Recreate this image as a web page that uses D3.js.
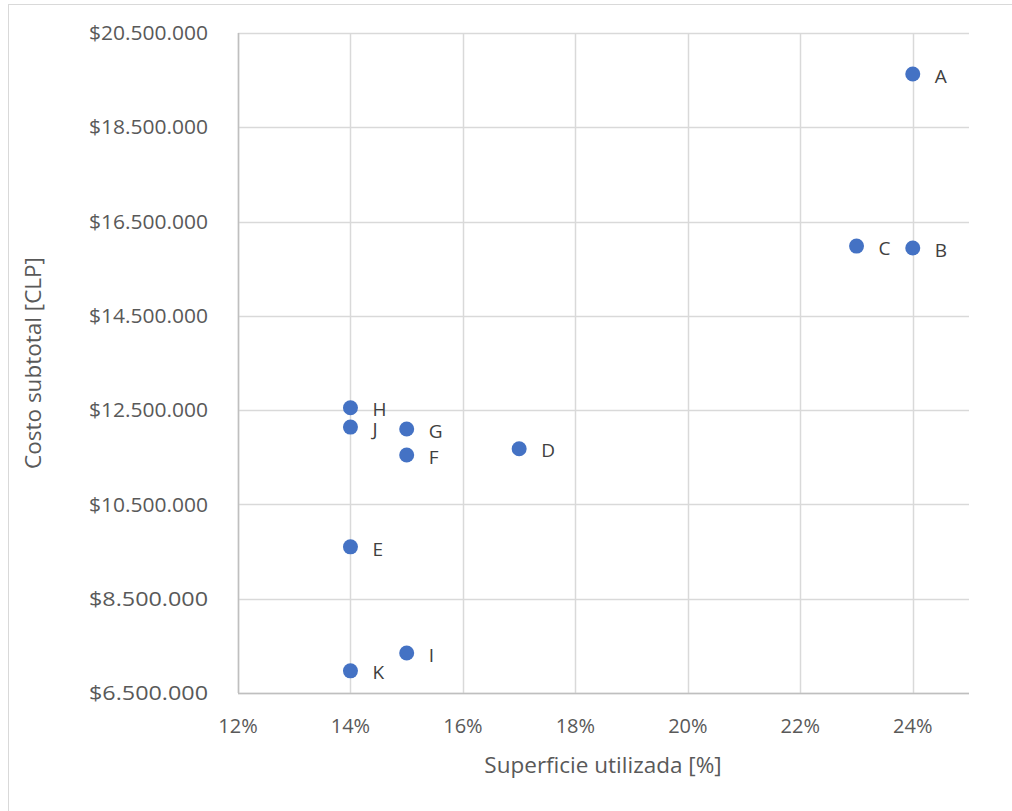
<!DOCTYPE html>
<html><head><meta charset="utf-8">
<script src="https://cdn.jsdelivr.net/npm/d3@7"></script>
<style>body{margin:0;background:#fff}svg{display:block}text{font-family:"Open Sans",Calibri,sans-serif;fill:#595959}</style>
</head><body><svg id="c" width="1012" height="811"></svg>
<script>
const labels = ["A","B","C","D","E","F","G","H","I","J","K"];
const xValues = [0.24,0.24,0.23,0.17,0.14,0.15,0.15,0.14,0.15,0.14,0.14];
const yValues = [19630000,15940000,15980000,11680000,9600000,11550000,12100000,12550000,7350000,12140000,6970000];
const xTicks = [0.12,0.14,0.16,0.18,0.20,0.22,0.24];
const yTicks = [6500000,8500000,10500000,12500000,14500000,16500000,18500000,20500000];
const xTitle = "Superficie utilizada [%]";
const yTitle = "Costo subtotal [CLP]";

const svg = d3.select("#c");
const L=238,R=969,T=33,B=693;
const x = d3.scaleLinear().domain([0.12,0.25]).range([L,R]);
const y = d3.scaleLinear().domain([6500000,20500000]).range([B,T]);

// outer border
svg.append("line").attr("x1",8).attr("x2",1012).attr("y1",4.5).attr("y2",4.5).attr("stroke","#d9d9d9");
svg.append("line").attr("x1",8.5).attr("x2",8.5).attr("y1",4).attr("y2",811).attr("stroke","#d9d9d9");

const fmtY = v => "$" + d3.format(",")(v).replace(/,/g,".");
const grid = svg.append("g");
grid.selectAll("line.h").data(yTicks).join("line")
  .attr("x1",L).attr("x2",R).attr("y1",d=>Math.round(y(d))+0.5).attr("y2",d=>Math.round(y(d))+0.5)
  .attr("stroke","#d9d9d9").attr("stroke-width",1.5);
grid.selectAll("line.v").data(xTicks).join("line")
  .attr("y1",T).attr("y2",B).attr("x1",d=>Math.round(x(d))+0.5).attr("x2",d=>Math.round(x(d))+0.5)
  .attr("stroke","#d9d9d9").attr("stroke-width",1.5);
// axis lines
svg.append("line").attr("x1",L).attr("x2",R).attr("y1",B+0.5).attr("y2",B+0.5).attr("stroke","#bfbfbf").attr("stroke-width",1.5);
svg.append("line").attr("x1",L+0.5).attr("x2",L+0.5).attr("y1",T).attr("y2",B).attr("stroke","#bfbfbf").attr("stroke-width",1.5);

svg.append("g").selectAll("text").data(yTicks).join("text")
  .attr("x",208).attr("y",d=>y(d)).attr("dy","0.35em").attr("text-anchor","end")
  .attr("font-size",20.5).attr("textLength",119).attr("lengthAdjust","spacingAndGlyphs").text(fmtY);
svg.append("g").selectAll("text").data(xTicks).join("text")
  .attr("x",d=>x(d)).attr("y",733).attr("text-anchor","middle")
  .attr("font-size",20).text(d=>Math.round(d*100)+"%");

svg.append("text").attr("x",603).attr("y",773).attr("text-anchor","middle").attr("font-size",22.5).text(xTitle);
svg.append("text").attr("transform","translate(41,363) rotate(-90)").attr("text-anchor","middle").attr("font-size",22.5).text(yTitle);

const pts = labels.map((l,i)=>({l,x:xValues[i],y:yValues[i]}));
svg.append("g").selectAll("circle").data(pts).join("circle")
  .attr("cx",d=>x(d.x)).attr("cy",d=>y(d.y)).attr("r",7.5).attr("fill","#4472C4");
svg.append("g").selectAll("text").data(pts).join("text")
  .attr("x",d=>x(d.x)+22).attr("y",d=>y(d.y)+2).attr("dy","0.35em")
  .attr("font-size",19).style("fill","#404040").text(d=>d.l);
</script></body></html>
